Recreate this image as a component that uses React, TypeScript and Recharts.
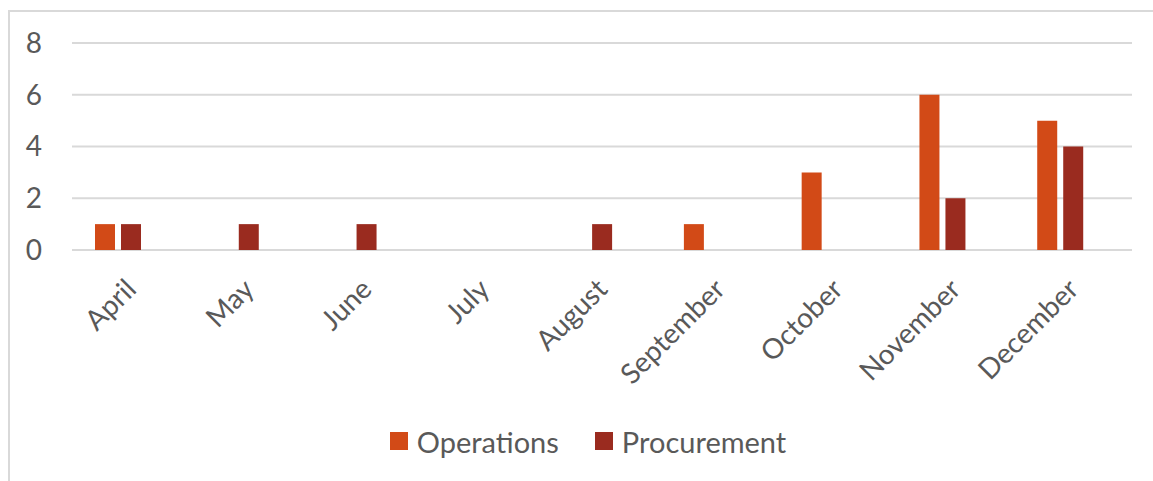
import { BarChart, Bar, XAxis, YAxis, CartesianGrid, Legend } from "recharts";

const months = ["April", "May", "June", "July", "August", "September", "October", "November", "December"];
const operations = [1, null, null, null, null, 1, 3, 6, 5];
const procurement = [1, 1, 1, null, 1, null, null, 2, 4];
// third (empty) series from the source workbook – keeps the clusters offset
const spare = [null, null, null, null, null, null, null, null, null];
const yTicks = [0, 2, 4, 6, 8];

const data = months.map((m, i) => ({
  month: m,
  Operations: operations[i],
  Procurement: procurement[i],
  spare: spare[i],
}));

const FONT = "Lato, 'Open Sans', sans-serif";
const TEXT = "#595959";

const MonthTick = ({ x, y, payload }: { x?: number; y?: number; payload?: { value: string } }) => (
  <g transform={`translate(${(x ?? 0) + 7},${(y ?? 0) + 41})`}>
    <text x={0} y={0} textAnchor="end" transform="rotate(-45)" fill={TEXT} fontSize={28} fontFamily={FONT}>
      {payload?.value}
    </text>
  </g>
);

const LegendRow = ({ payload }: { payload?: { value: string; color: string; type?: string }[] }) => (
  <div style={{ display: "flex", justifyContent: "center", alignItems: "center", height: 30, fontFamily: FONT }}>
    {(payload || [])
      .filter((p) => p.type !== "none")
      .map((p, i) => (
        <div key={p.value} style={{ display: "flex", alignItems: "center", marginLeft: i ? 36 : 0 }}>
          <span style={{ width: 18, height: 18, background: p.color, display: "inline-block", marginRight: 9 }} />
          <span style={{ fontSize: 29, color: TEXT }}>{p.value}</span>
        </div>
      ))}
  </div>
);

export default function App() {
  return (
    <div
      style={{
        position: "absolute",
        top: 10,
        left: 8,
        width: 1145,
        height: 471,
        borderLeft: "2px solid #d9d9d9",
        borderTop: "2px solid #d9d9d9",
        boxSizing: "border-box",
        overflow: "hidden",
      }}
    >
      <BarChart width={1143} height={469} data={data} margin={{ top: 31, right: 21, left: 12, bottom: 221 }} barSize={20} barGap={6}>
        <CartesianGrid vertical={false} stroke="#d9d9d9" strokeWidth={2} />
        <XAxis dataKey="month" axisLine={false} tickLine={false} tickSize={0} tickMargin={0} interval={0} tick={<MonthTick />} height={10} />
        <YAxis
          domain={[0, 8]}
          ticks={yTicks}
          axisLine={false}
          tickLine={false}
          width={50}
          tickMargin={24}
          tick={{ fontSize: 28, fill: TEXT, fontFamily: FONT }}
        />
        <Legend
          layout="horizontal"
          verticalAlign="middle"
          align="center"
          content={<LegendRow />}
          wrapperStyle={{ top: 414, left: 0, width: 1156 }}
        />
        <Bar dataKey="Operations" fill="#D24A17" isAnimationActive={false} />
        <Bar dataKey="Procurement" fill="#9A2B1F" isAnimationActive={false} />
        <Bar dataKey="spare" fill="#8F2D20" legendType="none" isAnimationActive={false} />
      </BarChart>
    </div>
  );
}
